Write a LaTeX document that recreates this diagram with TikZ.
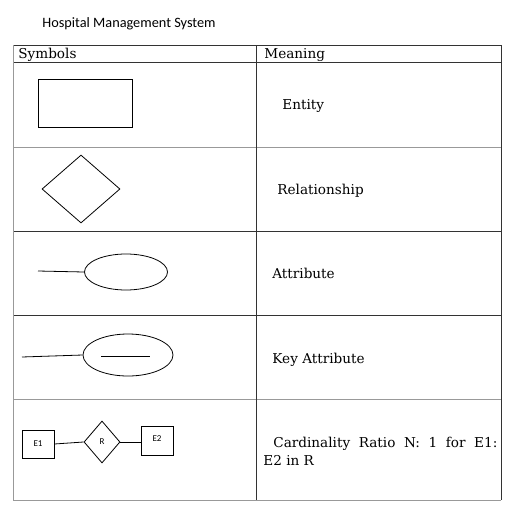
\documentclass[tikz,border=0pt]{standalone}
\usepackage{fontspec}
\setmainfont{DejaVu Serif}
\newfontfamily\titlefont{Carlito}
\usetikzlibrary{shapes.geometric}
\begin{document}
\begin{tikzpicture}[x=1pt,y=-1pt,line width=0.8pt,
  sym/.style={draw,inner sep=0pt},
  meaning/.style={anchor=base west,inner sep=0pt,font=\fontsize{13.6}{16}\selectfont},
  small/.style={font=\titlefont\fontsize{9}{10}\selectfont},
  grayline/.style={draw=black!40},
  darkline/.style={draw=black!80}]
\useasboundingbox (0,0) rectangle (510,515);
% title
\node[anchor=base west,inner sep=0pt,font=\titlefont\fontsize{14.3}{16}\selectfont] (title) at (42,27) {Hospital Management System};
% table
\draw[darkline] (13,45) -- (501,45);
\draw[darkline] (13,62) -- (501,62);
\draw[grayline] (13,147) -- (501,147);
\draw[darkline] (13,231) -- (501,231);
\draw[darkline] (13,315) -- (501,315);
\draw[grayline] (13,399) -- (501,399);
\draw[grayline] (13,500) -- (501,500);
\draw[grayline] (13,45) -- (13,500);
\draw[darkline] (256,45) -- (256,500);
\draw[darkline] (501,45) -- (501,500);
% header
\node[meaning] (hs) at (18,58) {Symbols};
\node[meaning] (hm) at (264,58) {Meaning};
% row 1
\node[sym,minimum width=94pt,minimum height=48pt] (ent) at (85,103) {};
\node[meaning] (tent) at (282,109) {Entity};
% row 2
\node[sym,diamond,aspect=1.15,minimum width=78pt,minimum height=68pt] (rel) at (81,189) {};
\node[meaning] (trel) at (277,194) {Relationship};
% row 3
\node[sym,ellipse,minimum width=83pt,minimum height=36pt] (attr) at (126,272) {};
\coordinate (attrend) at (38,271);
\draw (attrend) -- (attr.west);
\node[meaning] (tattr) at (272,278) {Attribute};
% row 4
\node[sym,ellipse,minimum width=90pt,minimum height=42pt] (key) at (128,355) {};
\coordinate (keyend) at (22,357);
\draw (keyend) -- (key.west);
\coordinate (ku1) at (101,356);
\coordinate (ku2) at (150,356);
\draw[line width=0.6pt] (ku1) -- (ku2);
\node[meaning] (tkey) at (272,363) {Key Attribute};
% row 5
\node[sym,small,minimum width=32pt,minimum height=28pt] (e1) at (38,444) {E1};
\node[sym,small,diamond,aspect=0.86,minimum width=36pt,minimum height=42pt] (r) at (102,442) {R};
\node[sym,small,minimum width=32pt,minimum height=29pt] (e2) at (157,440.5) {\raisebox{3pt}{E2}};
\draw (e1.east) -- (r.west);
\draw (r.east) -- (r.east -| e2.west);
\node[meaning] (tcard1) at (273,447) {\makebox[224pt][s]{Cardinality Ratio N: 1 for E1:}};
\node[meaning] (tcard2) at (263,465) {E2 in R};
\end{tikzpicture}
\end{document}
